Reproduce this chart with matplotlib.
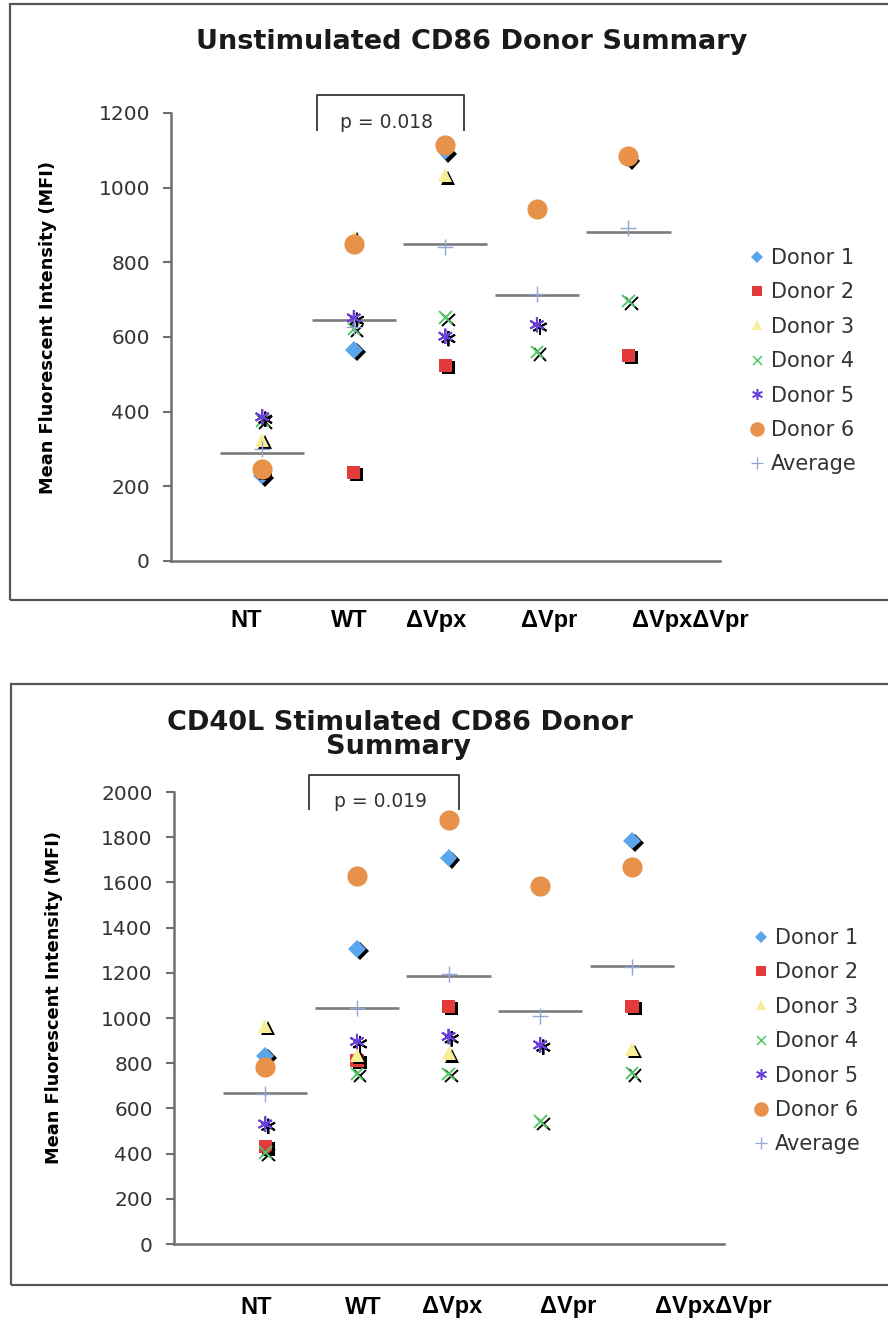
import numpy as np
import matplotlib
matplotlib.use("Agg")
import matplotlib.pyplot as plt
import matplotlib.patheffects as pe
from matplotlib.lines import Line2D
from matplotlib.patches import Rectangle

plt.rcParams['font.family'] = ['DejaVu Sans']

nan = np.nan

# conditions on the x axis (positions 1..5)
groups = ["NT", "WT", "ΔVpx", "ΔVpr", "ΔVpxΔVpr"]
donor_names = ["Donor 1", "Donor 2", "Donor 3", "Donor 4", "Donor 5", "Donor 6"]

# unstimulated CD86 MFI per donor
unstim_d1 = [229, 566, 1097, nan, 1078]
unstim_d2 = [240, 238, 524, nan, 551]
unstim_d3 = [325, 868, 1033, nan, nan]
unstim_d4 = [377, 622, 652, 560, 696]
unstim_d5 = [386, 651, 602, 633, nan]
unstim_d6 = [247, 850, 1115, 944, 1084]
unstim_avg = [301, 628, 841, 716, 893]
unstim_mean_bar = [290, 646, 850, 712, 880]

# CD40L stimulated CD86 MFI per donor
stim_d1 = [832, 1306, 1708, nan, 1785]
stim_d2 = [431, 812, 1051, nan, 1051]
stim_d3 = [965, 837, 844, nan, 862]
stim_d4 = [404, 753, 753, 542, 756]
stim_d5 = [531, 896, 918, 881, nan]
stim_d6 = [785, 1627, 1875, 1582, 1668]
stim_avg = [664, 1044, 1196, 1007, 1225]
stim_mean_bar = [667, 1044, 1187, 1033, 1232]

W, H = 888, 1321
fig = plt.figure(figsize=(W / 100, H / 100), dpi=100)


def fx(px):
    return px / W


def fy(py):
    return 1 - py / H


asterisk = (6, 2, 0)
fill_shadow = [pe.SimplePatchShadow(offset=(2.2, -1.7), shadow_rgbFace='black', alpha=1), pe.Normal()]
line_shadow = [pe.SimpleLineShadow(offset=(2.2, -1.7), shadow_color='black', alpha=1), pe.Normal()]

styles = [
    dict(marker='D', color='#5aa5ec', ms=9, mew=0, fx=fill_shadow),
    dict(marker='s', color='#e23b3b', ms=9.5, mew=0, fx=fill_shadow),
    dict(marker='^', color='#f6ef98', ms=10, mew=0, fx=fill_shadow),
    dict(marker='x', color='#55c86a', ms=9, mew=1.4, fx=line_shadow),
    dict(marker=asterisk, color='#6a3fdc', ms=11, mew=1.4, fx=line_shadow),
    dict(marker='o', color='#e8914a', ms=14.5, mew=0, fx=None),
]
avg_color = '#8fa6d6'
axis_gray = '#6e6e6e'


def draw_panel(rect, donors, avg, mean_bar, ymax, yticks, bracket, ptext):
    ax = fig.add_axes(rect)
    x = np.arange(1, len(groups) + 1)
    ax.hlines(mean_bar, x - 0.46, x + 0.46, color='#7b7b7b', lw=1.9, zorder=1)
    for vals, st in zip(donors, styles):
        ln, = ax.plot(x, vals, ls='none', marker=st['marker'], ms=st['ms'],
                      color=st['color'], mfc=st['color'], mec=st['color'],
                      mew=st['mew'], zorder=3, clip_on=False)
        if st['fx']:
            ln.set_path_effects(st['fx'])
    ax.plot(x, avg, ls='none', marker='+', ms=12, mew=1.0, color=avg_color, zorder=4)

    ax.set_xlim(0, 6)
    ax.set_ylim(0, ymax)
    ax.set_yticks(yticks)
    ax.set_xticks([])
    for s in ['top', 'right']:
        ax.spines[s].set_visible(False)
    for s in ['left', 'bottom']:
        ax.spines[s].set_color(axis_gray)
        ax.spines[s].set_linewidth(1.8)
    ax.tick_params(axis='y', direction='out', length=6, width=1.5, color=axis_gray,
                   labelsize=14.5, labelcolor='#333333', pad=9)
    ax.patch.set_alpha(0)

    # significance bracket between WT and ΔVpx
    bx0, bx1, by0, by1 = bracket
    ax.plot([bx0, bx0, bx1, bx1], [by0, by1, by1, by0], color='#444444', lw=1.4,
            clip_on=False, zorder=2)
    ax.text((bx0 + bx1) / 2 - 0.04, by0 + (by1 - by0) * 0.22, ptext, ha='center', va='center',
            fontsize=13.5, color='#333333', clip_on=False)
    return ax


def add_legend(left_px, top_px):
    handles = []
    for st in styles:
        handles.append(Line2D([], [], ls='none', marker=st['marker'], color=st['color'],
                              mfc=st['color'], mec=st['color'],
                              ms=st['ms'] * 0.72, mew=st['mew'] * 0.8))
    handles.append(Line2D([], [], ls='none', marker='+', ms=9, mew=0.9, color=avg_color))
    fig.legend(handles, donor_names + ["Average"], loc='upper left',
               bbox_to_anchor=(fx(left_px), fy(top_px)), frameon=False,
               fontsize=15, handlelength=0.75, handletextpad=0.3,
               labelspacing=0.69, borderpad=0, borderaxespad=0,
               labelcolor='#333333')


def frame(left, top, bottom):
    fig.patches.append(Rectangle((fx(left), fy(bottom)), fx(W + 20 - left), fy(top) - fy(bottom),
                                 transform=fig.transFigure, fill=False,
                                 edgecolor='#555555', lw=1.6))


# upper panel
frame(10, 4, 600)
fig.text(fx(472), fy(42), "Unstimulated CD86 Donor Summary", ha='center', va='center',
         fontsize=19.5, fontweight='bold', color='#1a1a1a')
draw_panel([fx(170.7), fy(561), fx(720) - fx(170.7), fy(113) - fy(561)],
           [unstim_d1, unstim_d2, unstim_d3, unstim_d4, unstim_d5, unstim_d6],
           unstim_avg, unstim_mean_bar, 1200, range(0, 1201, 200),
           (1.60, 3.20, 1155, 1248), "p = 0.018")
fig.text(fx(48), fy(327), "Mean Fluorescent Intensity (MFI)", rotation=90,
         ha='center', va='center', fontsize=12.8, fontweight='bold')
add_legend(749, 248)
for name, px in zip(groups, [246, 349, 436, 549, 690]):
    fig.text(fx(px), fy(621), name, ha='center', va='center', fontsize=17,
             fontweight='bold', family=['Liberation Sans', 'DejaVu Sans'])

# lower panel
frame(11, 684, 1285)
fig.text(fx(400), fy(723), "CD40L Stimulated CD86 Donor", ha='center', va='center',
         fontsize=19.5, fontweight='bold', color='#1a1a1a')
fig.text(fx(398), fy(747), "Summary", ha='center', va='center',
         fontsize=19.5, fontweight='bold', color='#1a1a1a')
draw_panel([fx(173.6), fy(1244), fx(723.6) - fx(173.6), fy(792) - fy(1244)],
           [stim_d1, stim_d2, stim_d3, stim_d4, stim_d5, stim_d6],
           stim_avg, stim_mean_bar, 2000, range(0, 2001, 200),
           (1.48, 3.11, 1925, 2075), "p = 0.019")
fig.text(fx(54), fy(997), "Mean Fluorescent Intensity (MFI)", rotation=90,
         ha='center', va='center', fontsize=12.8, fontweight='bold')
add_legend(753, 928)
for name, px in zip(groups, [256, 363, 452, 568, 713]):
    fig.text(fx(px), fy(1307), name, ha='center', va='center', fontsize=17,
             fontweight='bold', family=['Liberation Sans', 'DejaVu Sans'])

fig.savefig("out.png", dpi=100, facecolor='white')
